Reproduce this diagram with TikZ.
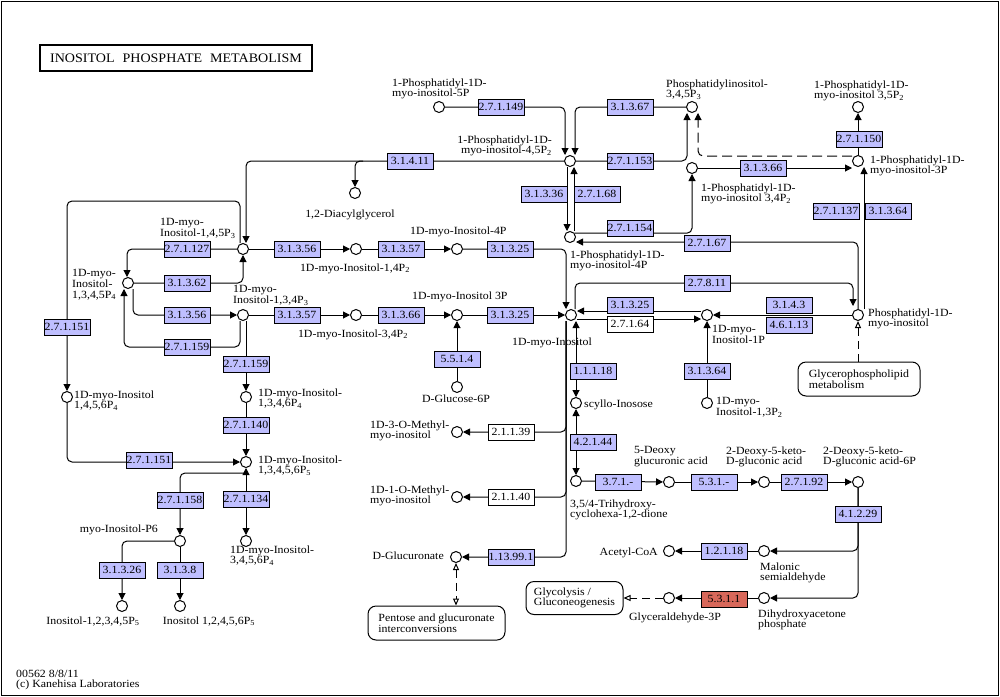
\documentclass[tikz,border=0pt]{standalone}
\usepackage{fontspec}
\setmainfont{Liberation Serif}[FakeStretch=1.08]
\usetikzlibrary{arrows.meta,calc,backgrounds}
\definecolor{enzblue}{RGB}{191,191,255}
\definecolor{enzred}{RGB}{216,104,90}
\newcommand{\nsub}[1]{\textsubscript{#1}}
\newcommand{\cpdfont}{\fontsize{11}{10.6}\selectfont}
\newcommand{\enzfont}{\fontsize{11}{11}\selectfont}

\begin{document}
\begin{tikzpicture}[x=1pt,y=-1pt,
    cpd/.style={circle,draw,fill=white,line width=1pt,minimum size=11pt,inner sep=0pt},
    enz/.style={draw,fill=enzblue,line width=1pt,minimum width=46pt,minimum height=16pt,inner sep=0pt,font=\enzfont},
    enzw/.style={enz,fill=white},
    enzr/.style={enz,fill=enzred},
    lbl/.style={inner sep=0pt,align=left,font=\cpdfont},
    mapbox/.style={draw,rounded corners=8pt,line width=1pt,inner sep=0pt,align=left,font=\cpdfont},
    rxn/.style={line width=1pt,rounded corners=5pt},
    toarr/.style={rxn,-{Triangle[length=7pt,width=7pt]}},
    botharr/.style={rxn,{Triangle[length=7pt,width=7pt]}-{Triangle[length=7pt,width=7pt]}},
    linkarr/.style={line width=1pt,dash pattern=on 8pt off 5pt,-{Triangle[open,length=7pt,width=6pt]}},
    linkboth/.style={line width=1pt,dash pattern=on 8pt off 5pt,{Triangle[open,length=7pt,width=6pt]}-{Triangle[open,length=7pt,width=6pt]}},
]
    \useasboundingbox (0,0) rectangle (1000,696);
    %FRAME
    \draw[line width=1pt] (1,1) rectangle (998,695);
    %TITLE
    \node[draw,line width=2.2pt,minimum width=272pt,minimum height=26pt,inner sep=0pt,font=\fontsize{13}{13}\selectfont] (title) at (176,58) {INOSITOL\hspace{8pt}PHOSPHATE\hspace{8pt}METABOLISM};
    \node[lbl,anchor=north west] (foot) at (16,669.5) {00562 8/8/11\\(c) Kanehisa Laboratories};

    %COMPOUNDS
    \node[cpd] (c5P) at (439,107) {};
    \node[cpd] (c45P2) at (570,161) {};
    \node[cpd] (c345P3) at (692,107) {};
    \node[cpd] (c34P2) at (692,168) {};
    \node[cpd] (c3P) at (858,161) {};
    \node[cpd] (c35P2) at (858,107) {};
    \node[cpd] (cDAG) at (355,193) {};
    \node[cpd] (c4P) at (570,237) {};
    \node[cpd] (c145P3) at (243,249) {};
    \node[cpd] (c14P2) at (356,249) {};
    \node[cpd] (cI4P) at (457,249) {};
    \node[cpd] (c1345P4) at (128,283) {};
    \node[cpd] (c134P3) at (243,315) {};
    \node[cpd] (cI34P2) at (356,315) {};
    \node[cpd] (cI3P) at (457,315) {};
    \node[cpd] (cG6P) at (457,387) {};
    \node[cpd] (cMI) at (571,315) {};
    \node[cpd] (c1P) at (707,315) {};
    \node[cpd] (c13P2) at (707,403) {};
    \node[cpd] (cPI) at (858,315) {};
    \node[cpd] (cScy) at (576,403) {};
    \node[cpd] (cTri) at (576,481) {};
    \node[cpd] (cDGA) at (669,482) {};
    \node[cpd] (cDKG) at (764,482) {};
    \node[cpd] (cDKGP) at (858,482) {};
    \node[cpd] (cMSA) at (764,551) {};
    \node[cpd] (cACoA) at (669,551) {};
    \node[cpd] (cDHAP) at (764,598) {};
    \node[cpd] (cGAP) at (669,598) {};
    \node[cpd] (cMe3) at (457,432) {};
    \node[cpd] (cMe1) at (457,497) {};
    \node[cpd] (cGlcA) at (456,557) {};
    \node[cpd] (c1456P4) at (67,397) {};
    \node[cpd] (c1346P4) at (246,397) {};
    \node[cpd] (c13456P5) at (246,462) {};
    \node[cpd] (c3456P4) at (246,541) {};
    \node[cpd] (cIP6) at (180,541) {};
    \node[cpd] (cIP5a) at (122,606) {};
    \node[cpd] (cIP5b) at (180,606) {};

    %COMPOUND LABELS
    \node[lbl,anchor=north west] (l5P) at (392,78.5) {1-Phosphatidyl-1D-\\myo-inositol-5P};
    \node[lbl,anchor=north east,align=right] (l45P2) at (552,135.5) {1-Phosphatidyl-1D-\\myo-inositol-4,5P\nsub{2}};
    \node[lbl,anchor=north west] (l345P3) at (666,79.5) {Phosphatidylinositol-\\3,4,5P\nsub{3}};
    \node[lbl,anchor=north west] (l35P2) at (814,80.5) {1-Phosphatidyl-1D-\\myo-inositol 3,5P\nsub{2}};
    \node[lbl,anchor=north west] (l3P) at (870,155.5) {1-Phosphatidyl-1D-\\myo-inositol-3P};
    \node[lbl,anchor=north west] (l34P2) at (701,183.5) {1-Phosphatidyl-1D-\\myo-inositol 3,4P\nsub{2}};
    \node[lbl,anchor=north west] (l4P) at (570,250.5) {1-Phosphatidyl-1D-\\myo-inositol-4P};
    \node[lbl,anchor=base] (lDAG) at (350,217) {1,2-Diacylglycerol};
    \node[lbl,anchor=north west] (l145P3) at (160,218.5) {1D-myo-\\Inositol-1,4,5P\nsub{3}};
    \node[lbl,anchor=base] (l14P2) at (355,271) {1D-myo-Inositol-1,4P\nsub{2}};
    \node[lbl,anchor=base west] (lI4P) at (410,234) {1D-myo-Inositol-4P};
    \node[lbl,anchor=north west] (l1345P4) at (72,269.5) {1D-myo-\\Inositol-\\1,3,4,5P\nsub{4}};
    \node[lbl,anchor=north west] (l134P3) at (233,285.5) {1D-myo-\\Inositol-1,3,4P\nsub{3}};
    \node[lbl,anchor=base] (lI34P2) at (353,337) {1D-myo-Inositol-3,4P\nsub{2}};
    \node[lbl,anchor=base west] (lI3P) at (412,299) {1D-myo-Inositol 3P};
    \node[lbl,anchor=base] (lG6P) at (456,402) {D-Glucose-6P};
    \node[lbl,anchor=base] (lMI) at (552,345) {1D-myo-Inositol};
    \node[lbl,anchor=north west] (l1P) at (712,325.5) {1D-myo-\\Inositol-1P};
    \node[lbl,anchor=north west] (l13P2) at (716,397.5) {1D-myo-\\Inositol-1,3P\nsub{2}};
    \node[lbl,anchor=north west] (lPI) at (868,308.5) {Phosphatidyl-1D-\\myo-inositol};
    \node[lbl,anchor=base west] (lScy) at (584,407) {scyllo-Inosose};
    \node[lbl,anchor=north west] (lTri) at (570,499.5) {3,5/4-Trihydroxy-\\cyclohexa-1,2-dione};
    \node[lbl,anchor=north west] (lDGA) at (634,446.5) {5-Deoxy\\glucuronic acid};
    \node[lbl,anchor=north west] (lDKG) at (726,446.5) {2-Deoxy-5-keto-\\D-gluconic acid};
    \node[lbl,anchor=north west] (lDKGP) at (823,446.5) {2-Deoxy-5-keto-\\D-gluconic acid-6P};
    \node[lbl,anchor=north west] (lMSA) at (760,562.5) {Malonic\\semialdehyde};
    \node[lbl,anchor=base east] (lACoA) at (658,555) {Acetyl-CoA};
    \node[lbl,anchor=north west] (lDHAP) at (758,609.5) {Dihydroxyacetone\\phosphate};
    \node[lbl,anchor=base] (lGAP) at (675,620) {Glyceraldehyde-3P};
    \node[lbl,anchor=north west] (lMe3) at (370,420.5) {1D-3-O-Methyl-\\myo-inositol};
    \node[lbl,anchor=north west] (lMe1) at (370,485.5) {1D-1-O-Methyl-\\myo-inositol};
    \node[lbl,anchor=base east] (lGlcA) at (444,559) {D-Glucuronate};
    \node[lbl,anchor=north west] (l1456P4) at (74,390.5) {1D-myo-Inositol\\1,4,5,6P\nsub{4}};
    \node[lbl,anchor=north west] (l1346P4) at (258,388.5) {1D-myo-Inositol-\\1,3,4,6P\nsub{4}};
    \node[lbl,anchor=north west] (l13456P5) at (258,455.5) {1D-myo-Inositol-\\1,3,4,5,6P\nsub{5}};
    \node[lbl,anchor=north west] (l3456P4) at (230,545.5) {1D-myo-Inositol-\\3,4,5,6P\nsub{4}};
    \node[lbl,anchor=base east] (lIP6) at (158,532) {myo-Inositol-P6};
    \node[lbl,anchor=base] (lIP5a) at (93,624) {Inositol-1,2,3,4,5P\nsub{5}};
    \node[lbl,anchor=base] (lIP5b) at (209,624) {Inositol 1,2,4,5,6P\nsub{5}};

    %MAPS
    \node[mapbox,minimum width=122pt,minimum height=34pt] (glp) at (859,379) {Glycerophospholipid\\metabolism};
    \node[mapbox,minimum width=137pt,minimum height=34pt] (pent) at (436.5,623) {Pentose and glucuronate\\interconversions};
    \node[mapbox,minimum width=97pt,minimum height=33pt] (glyco) at (574.5,598) {Glycolysis /\\Gluconeogenesis};

    %ENZYMES
    \node[enz] (e27149) at (501,107) {2.7.1.149};
    \node[enz] (e31367) at (630,107) {3.1.3.67};
    \node[enz] (e27153) at (630,161) {2.7.1.153};
    \node[enz] (e31411) at (410,161) {3.1.4.11};
    \node[enz] (e31336) at (544,194) {3.1.3.36};
    \node[enz] (e27168) at (597,194) {2.7.1.68};
    \node[enz] (e27154) at (630,228) {2.7.1.154};
    \node[enz] (e27167) at (707,243) {2.7.1.67};
    \node[enz] (e31366a) at (763,168) {3.1.3.66};
    \node[enz] (e27150) at (859,139) {2.7.1.150};
    \node[enz] (e27137) at (836,211) {2.7.1.137};
    \node[enz] (e31364a) at (888,211) {3.1.3.64};
    \node[enz] (e27127) at (187,249) {2.7.1.127};
    \node[enz] (e31356a) at (297,249) {3.1.3.56};
    \node[enz] (e31357a) at (401,249) {3.1.3.57};
    \node[enz] (e31325a) at (510,249) {3.1.3.25};
    \node[enz] (e31362) at (187,283) {3.1.3.62};
    \node[enz] (e31356b) at (187,315) {3.1.3.56};
    \node[enz] (e27159a) at (187,347) {2.7.1.159};
    \node[enz] (e31357b) at (297,315) {3.1.3.57};
    \node[enz] (e31366b) at (401,315) {3.1.3.66};
    \node[enz] (e31325b) at (510,315) {3.1.3.25};
    \node[enz] (e5514) at (457,359) {5.5.1.4};
    \node[enz] (e27151a) at (67,327) {2.7.1.151};
    \node[enz] (e27159b) at (246,364) {2.7.1.159};
    \node[enz] (e27140) at (246,425) {2.7.1.140};
    \node[enz] (e27151b) at (149,460) {2.7.1.151};
    \node[enz] (e27158) at (180,500) {2.7.1.158};
    \node[enz] (e27134) at (246,499) {2.7.1.134};
    \node[enz] (e31326) at (122,570) {3.1.3.26};
    \node[enz] (e3138) at (180,570) {3.1.3.8};
    \node[enz] (e27811) at (707,283) {2.7.8.11};
    \node[enz] (e31325c) at (630,305) {3.1.3.25};
    \node[enzw] (e27164) at (630,324) {2.7.1.64};
    \node[enz] (e3143) at (789,305) {3.1.4.3};
    \node[enz] (e46113) at (789,325) {4.6.1.13};
    \node[enz] (e31364b) at (707,371) {3.1.3.64};
    \node[enz] (e11118) at (593,371) {1.1.1.18};
    \node[enz] (e42144) at (593,442) {4.2.1.44};
    \node[enzw] (e21139) at (511,432) {2.1.1.39};
    \node[enzw] (e21140) at (511,497) {2.1.1.40};
    \node[enz] (e113991) at (511,557) {1.13.99.1};
    \node[enz] (e371) at (618,482) {3.7.1.-};
    \node[enz] (e531) at (714,482) {5.3.1.-};
    \node[enz] (e27192) at (804,482) {2.7.1.92};
    \node[enz] (e41229) at (858,514) {4.1.2.29};
    \node[enz] (e12118) at (724,551) {1.2.1.18};
    \node[enzr] (e5311) at (724,599) {5.3.1.1};

    %REACTIONS
    \begin{pgfonlayer}{background}
    \draw[toarr] (c5P) -| ([xshift=-5pt]c45P2.north);
    \draw[toarr] (c345P3) -| ([xshift=5pt]c45P2.north);
    \draw[toarr] (c45P2) -| ([xshift=-5pt]c345P3.south);
    \draw[toarr,dash pattern=on 10pt off 5pt] ([yshift=5pt]c3P.west) -| ([xshift=6pt]c345P3.south);
    \draw[toarr] (c45P2) -| ([xshift=3pt]c145P3.north);
    \draw[toarr] ($(cDAG.north |- c45P2)+(8,0)$) -| (cDAG.north);
    \draw[toarr] ([xshift=-3pt]c45P2.south) -- ([xshift=-3pt]c4P.north);
    \draw[toarr] ([xshift=4pt]c4P.north) -- ([xshift=4pt]c45P2.south);
    \draw[toarr] (c4P.40) -| (c34P2.south);
    \draw[toarr] (c34P2) -- (c3P.west |- c34P2);
    \draw[toarr] (c3P) -- (c35P2);
    \draw[toarr] ([xshift=6pt]cPI.north) -- ([xshift=6pt]c3P.south);
    \draw[toarr] (cPI.north) |- ([yshift=-5pt]c4P.east);
    \draw[toarr] ([xshift=4pt]cMI.north) |- (e27811.center) -| ([xshift=-5pt,yshift=3pt]cPI.north);
    \draw[toarr] (c145P3) -- (c14P2);
    \draw[toarr] (c14P2) -- (cI4P);
    \draw[toarr] (cI4P) -| ([xshift=-5pt]cMI.north);
    \draw[toarr] (c145P3) -| ([xshift=-1pt]c1345P4.north);
    \draw[toarr] (c1345P4) -| (c145P3.south);
    \draw[toarr] ([xshift=5pt]c1345P4.south) |- (c134P3);
    \draw[toarr] ([xshift=-3pt]c134P3.south) |- (e27159a.center) -| ([xshift=-4pt]c1345P4.south);
    \draw[toarr] ([xshift=-3pt]c145P3.north) -- ++(0,-42) -| (c1456P4.north);
    \draw[toarr] (c134P3) -- (cI34P2);
    \draw[toarr] (cI34P2) -- (cI3P);
    \draw[toarr] (cI3P) -- (cMI);
    \draw[toarr] (cG6P) -- (cI3P);
    \draw[toarr] (c1346P4.north |- c134P3.south) -- (c1346P4.north);
    \draw[toarr] (c1346P4) -- (c13456P5);
    \draw[toarr] (c1456P4) |- (c13456P5);
    \draw[botharr] (c13456P5) -- (c3456P4);
    \draw[toarr] ($(c13456P5.south)+(0,5)$) -| (cIP6.north);
    \draw[toarr] (cIP6) -| (cIP5a.north);
    \draw[toarr] (cIP6) -- (cIP5b);
    \draw[toarr] (cPI) -- (c1P);
    \draw[toarr] ([yshift=4pt]c1P.west) -- ([yshift=4pt]cMI.east);
    \draw[toarr] ([yshift=-4pt]cMI.east) -- ([yshift=-4pt]c1P.west);
    \draw[toarr] (c13P2) -- (c1P);
    \draw[botharr] ([xshift=5pt]cMI.south) -- (cScy.north);
    \draw[botharr] (cScy) -- (cTri);
    \draw[toarr] (cTri) -- (cDGA);
    \draw[toarr] (cDGA) -- (cDKG);
    \draw[toarr] (cDKG) -- (cDKGP);
    \draw[toarr] (cDKGP) |- (cMSA);
    \draw[toarr] (cDKGP) |- (cDHAP);
    \draw[toarr] (cMSA) -- (cACoA);
    \draw[toarr] (cDHAP) -- (cGAP);
    \draw[toarr] ([xshift=-5pt]cMI.south) |- (cMe3);
    \draw[toarr] ([xshift=-5pt]cMI.south) |- (cMe1);
    \draw[toarr] ([xshift=-5pt]cMI.south) |- (cGlcA);
    %MAP LINKS
    \draw[linkarr] (cGAP) -- (glyco.east);
    \draw[linkarr] (glp.north -| cPI) -- (cPI);
    \draw[linkboth] (cGlcA) -- (pent.north -| cGlcA);
    \end{pgfonlayer}
\end{tikzpicture}
\end{document}
